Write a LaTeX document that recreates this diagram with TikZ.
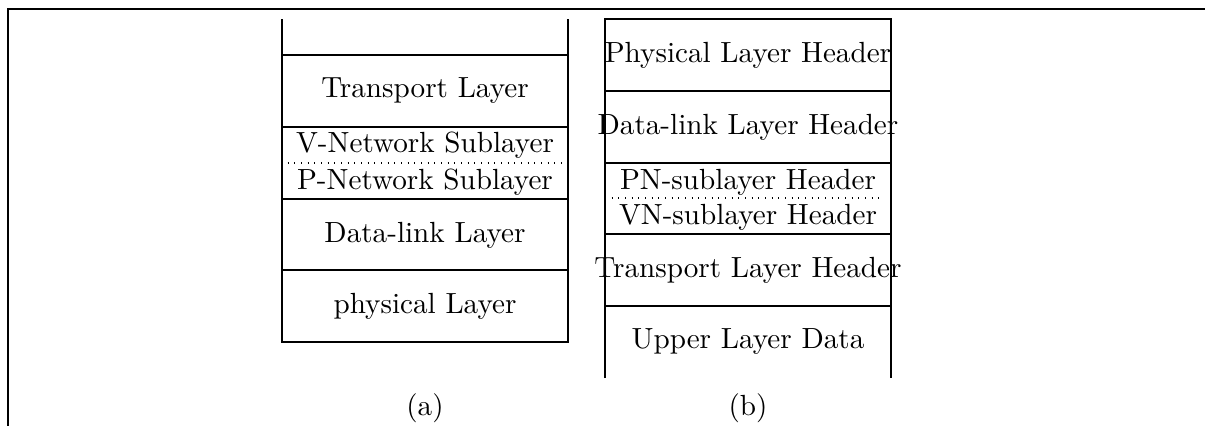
\documentclass[tikz,border=0pt]{standalone}
\usepackage{tikz}

\begin{document}
\begin{tikzpicture}[x=0.36pt, y=-0.36pt,
        every node/.style={font=\fontsize{10.5}{12.6}\selectfont}]
        \useasboundingbox (0,0) rectangle (1205,426);

        \draw[thin] (1205,9) -- (8,9) -- (8,426);

        % (a) protocol stack
        \draw[thick] (282,19) -- (282,342) -- (568,342) -- (568,19);
        \foreach \y in {55,127,199,270} {
          \draw[thick] (282,\y) -- (568,\y);
        }
        \draw[dotted] (281,163) -- (563,163);

        \node (tl) at (425,91) {Transport Layer};
        \node (vn) at (425,145) {V-Network Sublayer};
        \node (pn) at (425,182) {P-Network Sublayer};
        \node (dl) at (425,235) {Data-link Layer};
        \node (ph) at (425,306) {physical Layer};

        % (b) packet headers
        \draw[thick] (605,378) -- (605,19) -- (891,19) -- (891,378);
        \foreach \y in {91,163,234,306} {
          \draw[thick] (605,\y) -- (891,\y);
        }
        \draw[dotted] (605,198) -- (884,198);

        \node (phh) at (748,55) {Physical Layer Header};
        \node (dlh) at (748,127) {Data-link Layer Header};
        \node (pnh) at (748,182) {PN-sublayer Header};
        \node (vnh) at (748,217) {VN-sublayer Header};
        \node (tlh) at (748,270) {Transport Layer Header};
        \node (uld) at (748,342) {Upper Layer Data};

        \node (capa) at (425,408) {(a)};
        \node (capb) at (748,408) {(b)};
\end{tikzpicture}
\end{document}
